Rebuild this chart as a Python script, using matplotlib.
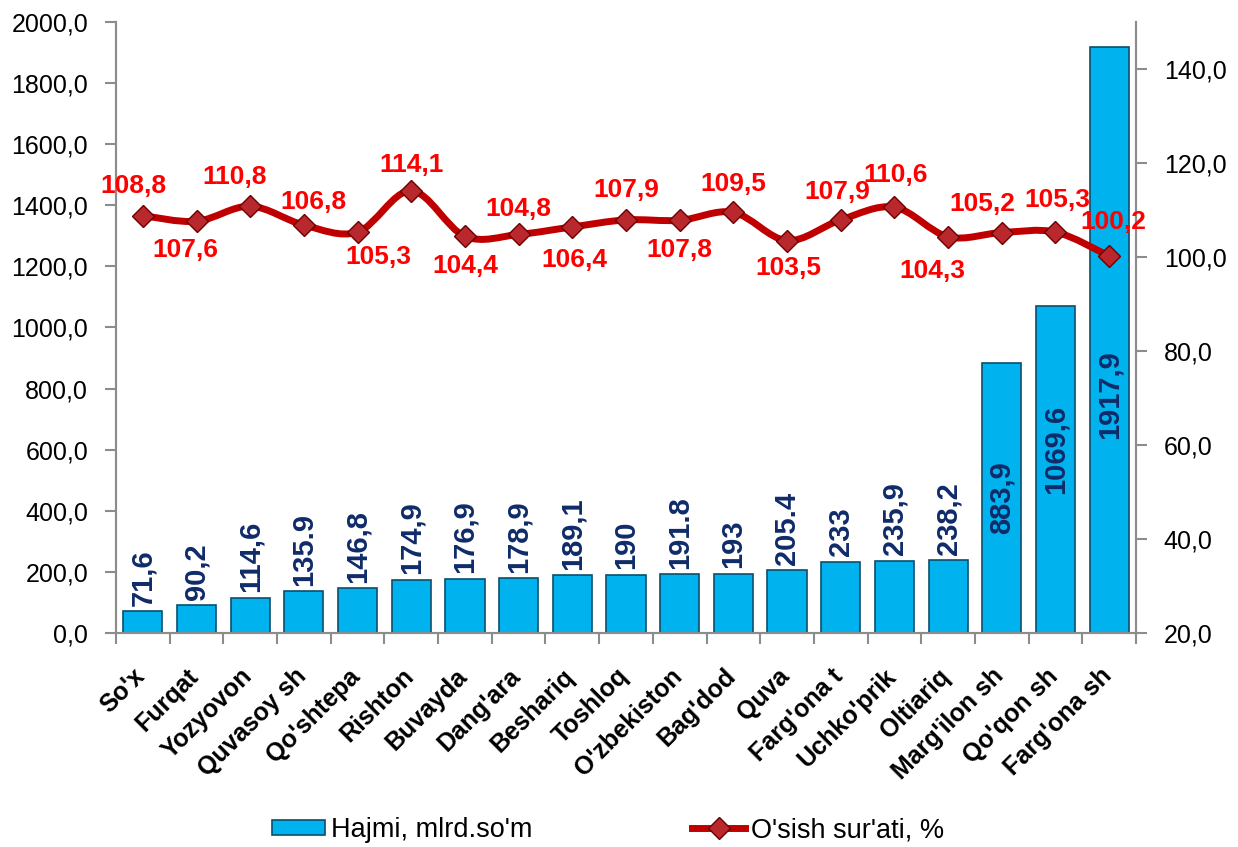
import numpy as np
import matplotlib
matplotlib.use("Agg")
import matplotlib.pyplot as plt
from matplotlib.path import Path
from matplotlib.patches import PathPatch, Patch
from matplotlib.lines import Line2D
from matplotlib.ticker import FuncFormatter, FixedLocator

plt.rcParams['font.family'] = ['Liberation Sans', 'DejaVu Sans']

# data
districts = ["So'x", "Furqat", "Yozyovon", "Quvasoy sh", "Qo'shtepa", "Rishton",
             "Buvayda", "Dang'ara", "Beshariq", "Toshloq", "O'zbekiston", "Bag'dod",
             "Quva", "Farg'ona t", "Uchko'prik", "Oltiariq", "Marg'ilon sh",
             "Qo'qon sh", "Farg'ona sh"]
volume = [71.6, 90.2, 114.6, 135.9, 146.8, 174.9, 176.9, 178.9, 189.1, 190,
          191.8, 193, 205.4, 233, 235.9, 238.2, 883.9, 1069.6, 1917.9]
volume_labels = ["71,6", "90,2", "114,6", "135.9", "146,8", "174,9", "176,9",
                 "178,9", "189,1", "190", "191.8", "193", "205.4", "233",
                 "235,9", "238,2", "883,9", "1069,6", "1917,9"]
growth = [108.8, 107.6, 110.8, 106.8, 105.3, 114.1, 104.4, 104.8, 106.4, 107.9,
          107.8, 109.5, 103.5, 107.9, 110.6, 104.3, 105.2, 105.3, 100.2]
growth_labels = [f"{v:.1f}".replace('.', ',') for v in growth]

# label placement (pixels offset from point), above / below the line
growth_offsets = [(-9, 30), (-11, -29), (-16, 29), (10, 23), (21, -25), (0, 26),
                  (0, -30), (0, 25), (2, -33), (0, 30), (0, -30), (0, 28),
                  (1, -27), (-3, 28), (1, 32), (-16, -34), (-19, 29), (2, 32), (4, 34)]
inside_frac = {16: 0.50, 17: 0.563, 18: 0.406}

bar_color = '#00B2EE'
bar_edge = '#0B4F6C'
line_color = '#C00000'
navy = '#0F2B69'
grey = '#8C8C8C'
px = 72 / 100  # points per pixel

fig = plt.figure(figsize=(12.38, 8.47), dpi=100)
ax = fig.add_axes([0.0937, 0.2527, 0.8239, 0.7213])
ax2 = ax.twinx()

x = np.arange(len(districts))
ax.bar(x, volume, width=0.73, color=bar_color, edgecolor=bar_edge, linewidth=1.2, zorder=2)

ax.set_xlim(-0.5, len(districts) - 0.5)
ax.set_ylim(0, 2000)
ax.set_yticks(np.arange(0, 2001, 200))
ax.yaxis.set_major_formatter(FuncFormatter(lambda v, p: f"{v:.1f}".replace('.', ',')))
ax2.set_ylim(20, 150)
ax2.set_yticks(np.arange(20, 141, 20))
ax2.yaxis.set_major_formatter(FuncFormatter(lambda v, p: f"{v:.1f}".replace('.', ',')))

for a in (ax, ax2):
    a.spines['top'].set_visible(False)
    for s in ('left', 'right', 'bottom'):
        a.spines[s].set_color(grey)
        a.spines[s].set_linewidth(1.5)
    a.tick_params(axis='y', labelsize=18, length=8, width=1.5, color=grey, pad=12)

# x labels: rotated, bbox top-right just below each category
ax.set_xticks(x)
ax.set_xticklabels([])
ax.tick_params(axis='x', which='major', length=0)
ax.xaxis.set_minor_locator(FixedLocator(np.arange(-0.5, len(districts), 1)))
ax.tick_params(axis='x', which='minor', length=8, width=1.5, color=grey)
for i, name in enumerate(districts):
    ax.annotate(name, (i, 0), xycoords=('data', 'axes fraction'),
                xytext=(7 * px, -31 * px), textcoords='offset points',
                rotation=45, ha='right', va='top', fontsize=18, fontweight='bold')

# bar value labels
for i, (v, lab) in enumerate(zip(volume, volume_labels)):
    if i in inside_frac:
        ax.text(i, v * inside_frac[i], lab, rotation=90, ha='center', va='center',
                fontsize=21, fontweight='bold', color=navy, zorder=3)
    else:
        ax.annotate(lab, (i, v), xytext=(0, 4), textcoords='offset points',
                    rotation=90, ha='center', va='bottom',
                    fontsize=21, fontweight='bold', color=navy, zorder=3)

# smoothed growth line (Catmull-Rom as bezier segments)
pts = np.column_stack([x, growth]).astype(float)
verts = [pts[0]]
codes = [Path.MOVETO]
n = len(pts)
for i in range(n - 1):
    p0 = pts[i - 1] if i > 0 else pts[i]
    p1 = pts[i]
    p2 = pts[i + 1]
    p3 = pts[i + 2] if i + 2 < n else pts[i + 1]
    c1 = p1 + (p2 - p0) / 6.0
    c2 = p2 - (p3 - p1) / 6.0
    verts += [c1, c2, p2]
    codes += [Path.CURVE4] * 3
ax2.add_patch(PathPatch(Path(verts, codes), fill=False, edgecolor=line_color,
                        linewidth=5, capstyle='round', joinstyle='round', zorder=4))
ax2.plot(x, growth, ls='none', marker='D', markersize=11, markerfacecolor='#B8282C',
         markeredgecolor='#6E0000', markeredgewidth=1, zorder=5)

for i, (v, lab) in enumerate(zip(growth, growth_labels)):
    dx, dy = growth_offsets[i]
    ax2.annotate(lab, (i, v), xytext=(dx * px, dy * px), textcoords='offset points',
                 ha='center', va='center', fontsize=19, fontweight='bold',
                 color='#FF0000', zorder=6)

# legend
handles = [Patch(facecolor=bar_color, edgecolor=bar_edge, linewidth=1.2),
           Line2D([0], [0], color=line_color, lw=5, marker='D', markersize=11,
                  markerfacecolor='#B8282C', markeredgecolor='#6E0000')]
fig.legend(handles, ["Hajmi, mlrd.so'm", "O'sish sur'ati, %"], loc='center left',
           bbox_to_anchor=(0.209, 0.020), ncol=2, frameon=False, fontsize=19.5,
           borderpad=0, handlelength=1.95, handleheight=0.5, handletextpad=0.22,
           columnspacing=5.9)

fig.savefig('out.png', dpi=100)
